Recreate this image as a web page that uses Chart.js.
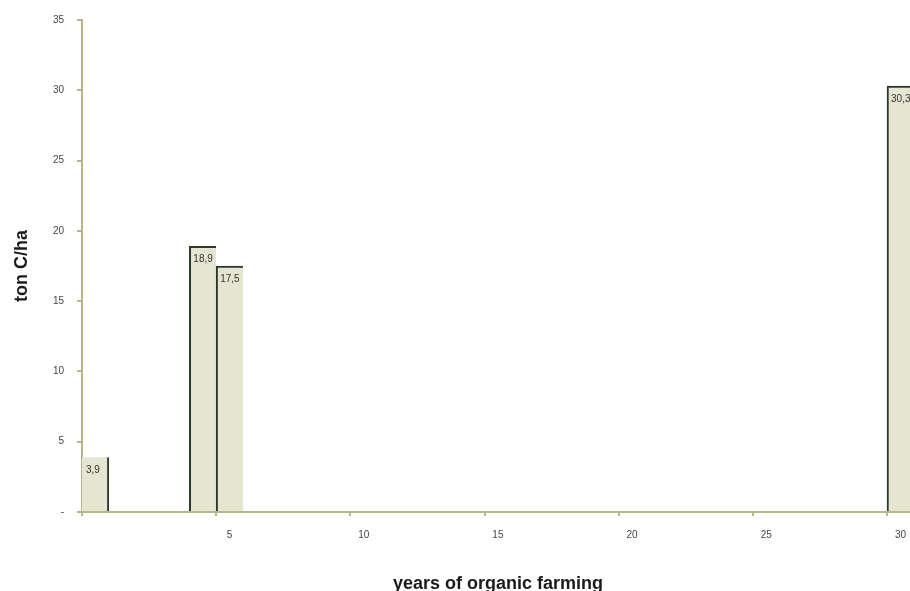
<!DOCTYPE html>
<html>
<head>
<meta charset="utf-8">
<script src="https://cdn.jsdelivr.net/npm/chart.js@4"></script>
<style>
  html, body { margin: 0; padding: 0; background: #ffffff; }
  #wrap { width: 910px; height: 591px; overflow: hidden; position: relative; }
  #box { width: 919px; height: 600px; position: absolute; left: 0; top: 0; }
</style>
</head>
<body>
<div id="wrap"><div id="box"><canvas id="c"></canvas></div></div>
<script>
// Categories: years of organic farming (0..30)
const categories = ['0','1','2','3','4','5','6','7','8','9','10','11','12','13','14','15',
                    '16','17','18','19','20','21','22','23','24','25','26','27','28','29','30'];
// Measured farms: years and soil carbon (ton C/ha)
const years = [0, 4, 5, 30];
const carbon = [3.9, 18.9, 17.5, 30.3];
// Axis ticks
const yTicks = [0, 5, 10, 15, 20, 25, 30, 35];
const xLabelYears = ['5', '10', '15', '20', '25', '30'];

const values = categories.map(c => {
  const i = years.indexOf(Number(c));
  return i >= 0 ? carbon[i] : null;
});

const AXIS = '#b6b68a';
const DARK = '#2a3a2a';

const labelPlugin = {
  id: 'barLabels',
  afterDatasetsDraw(chart) {
    const ctx = chart.ctx;
    const meta = chart.getDatasetMeta(0);
    ctx.save();
    ctx.font = '10px "Liberation Sans", Arial, sans-serif';
    ctx.fillStyle = '#333333';
    ctx.textAlign = 'left';
    ctx.textBaseline = 'middle';
    meta.data.forEach((el, i) => {
      const v = chart.data.datasets[0].data[i];
      if (v === null || v === undefined) return;
      const left = el.x - el.width / 2;
      ctx.fillText(v.toFixed(1).replace('.', ','), left + 4, el.y + 13);
    });
    ctx.restore();
  }
};

new Chart(document.getElementById('c'), {
  type: 'bar',
  data: {
    labels: categories,
    datasets: [{
      data: values,
      backgroundColor: '#e5e5d2',
      borderColor: DARK,
      borderSkipped: false,
      borderWidth: (ctx) => {
        const idx = ctx.dataIndex;
        if (categories[idx] === '0') return {left: 0, top: 0, right: 2, bottom: 0};
        return {left: 2, top: 2, right: 0, bottom: 0};
      },
      barPercentage: 1,
      categoryPercentage: 1
    }]
  },
  options: {
    responsive: true,
    maintainAspectRatio: false,
    animation: false,
    layout: { padding: { top: 20, right: 0, bottom: 0, left: 0 } },
    plugins: { legend: { display: false }, tooltip: { enabled: false } },
    scales: {
      x: {
        type: 'category',
        offset: true,
        grid: {
          offset: true,
          drawOnChartArea: false,
          drawTicks: true,
          tickLength: 4,
          color: (ctx) => (ctx.index % 5 === 0 ? AXIS : 'rgba(0,0,0,0)'),
          lineWidth: 2
        },
        border: { display: true, color: AXIS, width: 2 },
        ticks: {
          autoSkip: false,
          maxRotation: 0,
          padding: 13,
          color: '#444444',
          font: { family: '"Liberation Sans", Arial, sans-serif', size: 10 },
          callback: function (val, idx) {
            const lab = categories[idx];
            return xLabelYears.includes(lab) ? lab : '';
          }
        },
        title: {
          display: true,
          text: 'years of organic farming',
          color: '#1a1a1a',
          font: { family: '"Liberation Sans", Arial, sans-serif', size: 18, weight: 'bold' },
          padding: { top: 0, bottom: 5 }
        },
        afterFit: (scale) => { scale.height = 88; }
      },
      y: {
        min: 0,
        max: 35,
        afterBuildTicks: (scale) => { scale.ticks = yTicks.map(v => ({ value: v })); },
        grid: {
          drawOnChartArea: false,
          drawTicks: true,
          tickLength: 5,
          color: AXIS,
          lineWidth: 2
        },
        border: { display: true, color: AXIS, width: 2 },
        ticks: {
          padding: 13,
          color: '#444444',
          font: { family: '"Liberation Sans", Arial, sans-serif', size: 10 },
          callback: (v) => (v === 0 ? '-' : String(v))
        },
        title: {
          display: true,
          text: 'ton C/ha',
          color: '#1a1a1a',
          font: { family: '"Liberation Sans", Arial, sans-serif', size: 18, weight: 'bold' },
          padding: { top: 11, bottom: 0 }
        },
        afterFit: (scale) => { scale.width = 82; }
      }
    }
  },
  plugins: [labelPlugin]
});
</script>
</body>
</html>
